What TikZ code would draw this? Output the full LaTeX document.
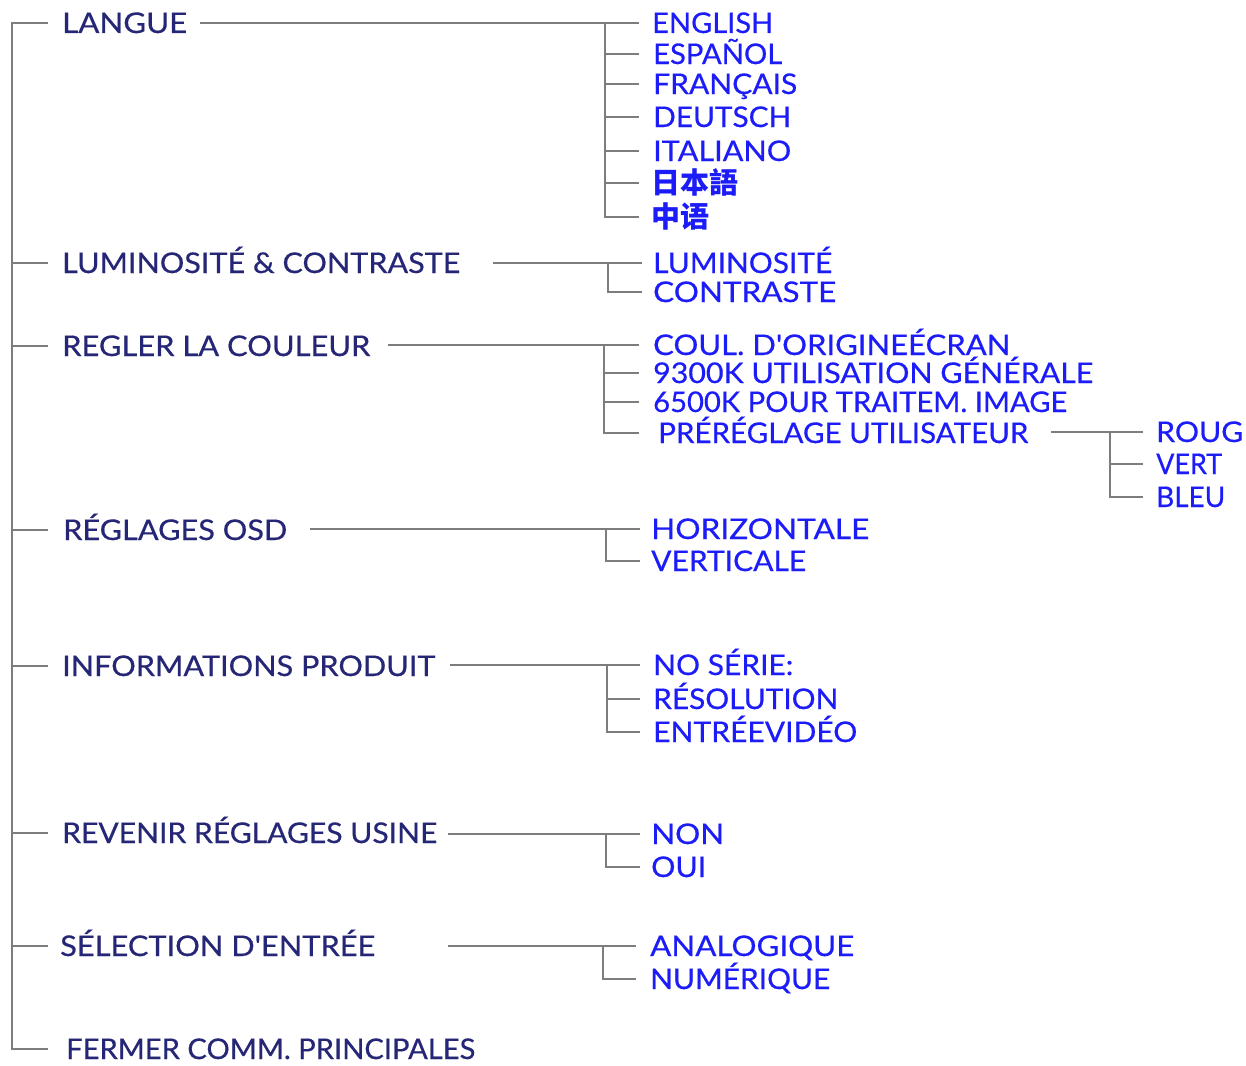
\documentclass[tikz,border=0pt]{standalone}
\usepackage{fontspec}
\usepackage{graphicx}
\setmainfont{Lato}[FakeBold=0.5]
\newfontfamily\cjkf{Noto Sans CJK SC}
\definecolor{navy}{RGB}{38,38,118}
\definecolor{sblue}{RGB}{28,28,248}
\definecolor{lgray}{RGB}{125,125,125}
\newcommand\fitw[2]{\resizebox{#1pt}{\height}{#2}}
\tikzset{
  conn/.style={draw=lgray, line width=1.5pt},
  lab/.style={anchor=west, inner sep=0pt, text height=20pt, text depth=0pt,
    font=\fontsize{28.5}{32}\selectfont},
  mlab/.style={lab, text=navy},
  slab/.style={lab, text=sblue},
  cjklab/.style={slab, font=\fontsize{29}{32}\selectfont\cjkf\bfseries}
}
\begin{document}
\begin{tikzpicture}[x=1pt,y=-1pt]
\useasboundingbox (0,0) rectangle (1246,1065);
% main labels
\node[mlab] (langue)  at (62,23)   {\fitw{125}{LANGUE}};
\node[mlab] (lumcon)  at (62,263)  {\fitw{398}{LUMINOSITÉ \& CONTRASTE}};
\node[mlab] (regler)  at (62,346)  {\fitw{308}{REGLER LA COULEUR}};
\node[mlab] (osd)     at (63,530)  {\fitw{224}{RÉGLAGES OSD}};
\node[mlab] (info)    at (62,666)  {\fitw{373}{INFORMATIONS PRODUIT}};
\node[mlab] (revenir) at (62,833)  {\fitw{375}{REVENIR RÉGLAGES USINE}};
\node[mlab] (select)  at (60,946)  {\fitw{315}{SÉLECTION D\textquotesingle ENTRÉE}};
\node[mlab] (fermer)  at (66,1049) {\fitw{409}{FERMER COMM. PRINCIPALES}};
% spine
\coordinate (spx) at (12,0);
\coordinate (tkx) at (48,0);
\draw[conn] (tkx |- langue.west) -- (spx |- langue.west) -- (spx |- fermer.west) -- (tkx |- fermer.west);
\foreach \n in {lumcon,regler,osd,info,revenir,select}
  \draw[conn] (spx |- \n.west) -- (tkx |- \n.west);
% group 1 LANGUE
\node[slab] (en) at (652,23)  {\fitw{121}{ENGLISH}};
\node[slab] (es) at (653,54)  {\fitw{129}{ESPAÑOL}};
\node[slab] (fr) at (653,84)  {\fitw{144}{FRANÇAIS}};
\node[slab] (de) at (653,117) {\fitw{138}{DEUTSCH}};
\node[slab] (it) at (653,151) {\fitw{138}{ITALIANO}};
\node[cjklab] (ja) at (651,183) {日本語};
\node[cjklab] (zh) at (651,217) {中语};
\coordinate (g1s) at (200,0); \coordinate (g1v) at (605,0); \coordinate (g1e) at (639,0);
\draw[conn] (g1s |- en.west) -- (g1e |- en.west);
\draw[conn] (g1v |- en.west) -- (g1v |- zh.west) -- (g1e |- zh.west);
\foreach \n in {es,fr,de,it,ja} \draw[conn] (g1v |- \n.west) -- (g1e |- \n.west);
% group 2 LUMINOSITE
\node[slab] (lum) at (653,263) {\fitw{179}{LUMINOSITÉ}};
\node[slab] (con) at (653,292) {\fitw{183}{CONTRASTE}};
\coordinate (g2s) at (493,0); \coordinate (g2v) at (608,0); \coordinate (g2e) at (642,0);
\draw[conn] (g2s |- lum.west) -- (g2e |- lum.west);
\draw[conn] (g2v |- lum.west) -- (g2v |- con.west) -- (g2e |- con.west);
% group 3 COULEUR
\node[slab] (coul) at (653,345) {\fitw{357}{COUL. D\textquotesingle ORIGINEÉCRAN}};
\node[slab] (k93)  at (653,373) {\fitw{440}{9300K UTILISATION GÉNÉRALE}};
\node[slab] (k65)  at (653,402) {\fitw{414}{6500K POUR TRAITEM. IMAGE}};
\node[slab] (pre)  at (658,433) {\fitw{370}{PRÉRÉGLAGE UTILISATEUR}};
\coordinate (g3s) at (388,0); \coordinate (g3v) at (604,0); \coordinate (g3e) at (639,0);
\draw[conn] (g3s |- coul.west) -- (g3e |- coul.west);
\draw[conn] (g3v |- coul.west) -- (g3v |- pre.west) -- (g3e |- pre.west);
\foreach \n in {k93,k65} \draw[conn] (g3v |- \n.west) -- (g3e |- \n.west);
% sub group RGB
\node[slab] (roug) at (1156,432) {\fitw{87}{ROUG}};
\node[slab] (vert) at (1156,464) {\fitw{66}{VERT}};
\node[slab] (bleu) at (1156,497) {\fitw{69}{BLEU}};
\coordinate (g4s) at (1051,0); \coordinate (g4v) at (1110,0); \coordinate (g4e) at (1143,0);
\draw[conn] (g4s |- roug.west) -- (g4e |- roug.west);
\draw[conn] (g4v |- roug.west) -- (g4v |- bleu.west) -- (g4e |- bleu.west);
\draw[conn] (g4v |- vert.west) -- (g4e |- vert.west);
% group OSD
\node[slab] (hor) at (651,529) {\fitw{218}{HORIZONTALE}};
\node[slab] (ver) at (651,561) {\fitw{155}{VERTICALE}};
\coordinate (g5s) at (310,0); \coordinate (g5v) at (606,0); \coordinate (g5e) at (640,0);
\draw[conn] (g5s |- hor.west) -- (g5e |- hor.west);
\draw[conn] (g5v |- hor.west) -- (g5v |- ver.west) -- (g5e |- ver.west);
% group INFO
\node[slab] (nos) at (653,665) {\fitw{140}{NO SÉRIE:}};
\node[slab] (res) at (653,699) {\fitw{185}{RÉSOLUTION}};
\node[slab] (ent) at (653,732) {\fitw{204}{ENTRÉEVIDÉO}};
\coordinate (g6s) at (450,0); \coordinate (g6v) at (607,0); \coordinate (g6e) at (640,0);
\draw[conn] (g6s |- nos.west) -- (g6e |- nos.west);
\draw[conn] (g6v |- nos.west) -- (g6v |- ent.west) -- (g6e |- ent.west);
\draw[conn] (g6v |- res.west) -- (g6e |- res.west);
% group REVENIR
\node[slab] (non) at (651,834) {\fitw{73}{NON}};
\node[slab] (oui) at (651,867) {\fitw{55}{OUI}};
\coordinate (g7s) at (448,0); \coordinate (g7v) at (606,0); \coordinate (g7e) at (640,0);
\draw[conn] (g7s |- non.west) -- (g7e |- non.west);
\draw[conn] (g7v |- non.west) -- (g7v |- oui.west) -- (g7e |- oui.west);
% group SELECTION
\node[slab] (ana) at (650,946) {\fitw{204}{ANALOGIQUE}};
\node[slab] (num) at (650,979) {\fitw{180}{NUMÉRIQUE}};
\coordinate (g8s) at (448,0); \coordinate (g8v) at (603,0); \coordinate (g8e) at (636,0);
\draw[conn] (g8s |- ana.west) -- (g8e |- ana.west);
\draw[conn] (g8v |- ana.west) -- (g8v |- num.west) -- (g8e |- num.west);
\end{tikzpicture}
\end{document}
